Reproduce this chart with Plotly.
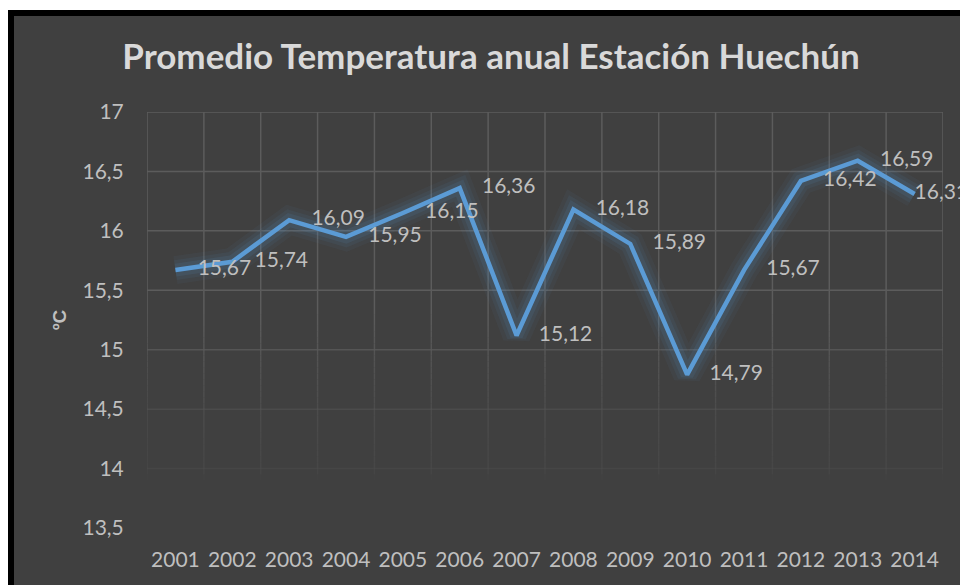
import plotly.graph_objects as go

# ---- data ----
years = ["2001", "2002", "2003", "2004", "2005", "2006", "2007",
         "2008", "2009", "2010", "2011", "2012", "2013", "2014"]
temps = [15.67, 15.74, 16.09, 15.95, 16.15, 16.36, 15.12,
         16.18, 15.89, 14.79, 15.67, 16.42, 16.59, 16.31]
y_ticks = [13.5, 14, 14.5, 15, 15.5, 16, 16.5, 17]
y_tick_text = ["13,5", "14", "14,5", "15", "15,5", "16", "16,5", "17"]
title_text = "Promedio Temperatura anual Estación Huechún"
y_title = "ºC"

BG = "#404040"
LINE = "#5B9BD5"
TXT = "#BFBFBF"
GRID = "#5C5C5C"
FONT = "Lato"

W, H = 960, 585
ML, MR, MT, MB = 147, 960 - 943, 112, 585 - 528
PW, PH = W - ML - MR, H - MT - MB

def px_x(p):
    return (p - ML) / PW

def px_y(p):
    return (H - MB - p) / PH

# gridline fade towards the bottom of the plot
fade_stops = [(13.9, 0.0), (14.0, 0.24), (14.5, 0.42), (15.0, 0.76), (15.3, 1.0)]

def fade(v):
    if v <= fade_stops[0][0]:
        return 0.0
    for (a, oa), (b, ob) in zip(fade_stops[:-1], fade_stops[1:]):
        if a <= v <= b:
            return oa + (ob - oa) * (v - a) / (b - a)
    return 1.0

fig = go.Figure()

# glow
for w, a in [(28, 0.05), (20, 0.07), (13, 0.10)]:
    fig.add_trace(go.Scatter(x=years, y=temps, mode="lines",
                             line=dict(color=f"rgba(91,155,213,{a})", width=w),
                             hoverinfo="skip", showlegend=False))
# main line
fig.add_trace(go.Scatter(x=years, y=temps, mode="lines",
                         line=dict(color=LINE, width=4.5),
                         showlegend=False))
# data labels (to the right of each point; the last one is pulled in
# against the chart edge, as the spreadsheet does)
labels = [f"{v:.2f}".replace(".", ",") for v in temps]
label_pad = [34] * (len(temps) - 1) + [0]
fig.add_trace(go.Scatter(x=years, y=temps, mode="markers+text",
                         text=labels, textposition="middle right",
                         marker=dict(size=label_pad, color="rgba(0,0,0,0)",
                                     line=dict(width=0, color="rgba(0,0,0,0)")),
                         textfont=dict(family=FONT, size=21, color=TXT),
                         cliponaxis=False, hoverinfo="skip", showlegend=False))

shapes = []
# chart frame (black border, dark background) on a white page
shapes.append(dict(type="rect", xref="paper", yref="paper", layer="below",
                   x0=px_x(11), x1=px_x(1000), y0=px_y(640), y1=px_y(13),
                   fillcolor=BG, line=dict(color="black", width=6)))
# horizontal gridlines
for t in y_ticks:
    op = fade(t)
    if op > 0:
        shapes.append(dict(type="line", xref="paper", yref="y", layer="below",
                           x0=0, x1=1, y0=t, y1=t, opacity=op,
                           line=dict(color=GRID, width=1.5)))
# vertical gridlines at category boundaries
step = 0.05
n_seg = int(round((fade_stops[-1][0] - fade_stops[0][0]) / step))
for i in range(len(years) + 1):
    xb = i - 0.5
    shapes.append(dict(type="line", xref="x", yref="y", layer="below",
                       x0=xb, x1=xb, y0=fade_stops[-1][0], y1=y_ticks[-1],
                       line=dict(color=GRID, width=1.5)))
    for k in range(n_seg):
        y0 = fade_stops[0][0] + k * step
        y1 = y0 + step
        op = fade((y0 + y1) / 2)
        shapes.append(dict(type="line", xref="x", yref="y", layer="below",
                           x0=xb, x1=xb, y0=y0, y1=y1, opacity=op,
                           line=dict(color=GRID, width=1.5)))

fig.update_layout(
    width=W, height=H,
    margin=dict(l=ML, r=MR, t=MT, b=MB, autoexpand=False),
    paper_bgcolor="white",
    plot_bgcolor="rgba(0,0,0,0)",
    separators=",.",
    showlegend=False,
    title=dict(text=title_text, x=491 / W, xanchor="center",
               y=1 - 57 / H, yanchor="middle", xref="container", yref="container",
               font=dict(family=FONT, size=35, color="#D9D9D9", weight=700)),
    xaxis=dict(type="category", range=[-0.5, 13.5],
               showgrid=False, showline=False, zeroline=False, automargin=False,
               ticks="outside", ticklen=13, tickcolor="rgba(0,0,0,0)",
               tickfont=dict(family=FONT, size=21, color=TXT)),
    yaxis=dict(range=[13.5, 17], tickvals=y_ticks, ticktext=y_tick_text,
               showgrid=False, showline=False, zeroline=False, automargin=False,
               ticks="outside", ticklen=18, tickcolor="rgba(0,0,0,0)",
               tickfont=dict(family=FONT, size=21, color=TXT),
               title=dict(text=y_title, standoff=10,
                          font=dict(family="Liberation Sans", size=19, color=TXT, weight=700))),
    shapes=shapes,
)

fig.write_html("out.html",
               config={"displayModeBar": False},
               post_script="document.body.style.margin='0';document.body.style.overflow='hidden';")
